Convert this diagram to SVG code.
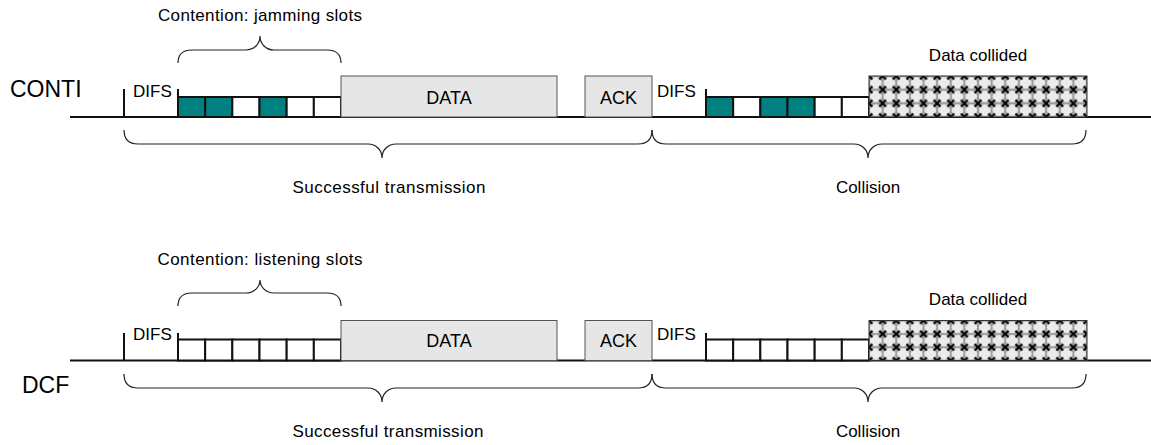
<svg xmlns="http://www.w3.org/2000/svg" width="1151" height="445" viewBox="0 0 1151 445">
<style>
text{font-family:"Liberation Sans",Arial,sans-serif;fill:#000}
.lbl{font-size:23px}
.t17{font-size:17px}
.t18{font-size:18px}
.box{fill:#e6e6e6;stroke:#555;stroke-width:1}
.line{stroke:#111;stroke-width:2;fill:none}
.slot{stroke:#111;stroke-width:2;fill:#fff}
.jam{stroke:#111;stroke-width:2;fill:#008080}
.brace{stroke:#222;stroke-width:1.2;fill:none}
.hatch{stroke:#333;stroke-width:1}
</style>
<defs>
<pattern id="hx" patternUnits="objectBoundingBox" width="0.0625" height="0.33333" patternContentUnits="userSpaceOnUse">
<rect width="13.7" height="13.7" fill="#9c9c9c"/>
<circle cx="6.8" cy="6.8" r="5.9" fill="#ebebeb"/>
<path d="M0,0 L3.4,3.4 M13.6,0 L10.2,3.4 M0,13.6 L3.4,10.2 M13.6,13.6 L10.2,10.2" stroke="#000" stroke-width="2"/>
</pattern>
</defs>

<g id="labels">
<text class="lbl" x="10" y="97">CONTI</text>
<text class="lbl" x="22" y="393">DCF</text>
</g>

<!-- Top row: CONTI -->
<g id="conti-timeline">
<path class="line" d="M70,117 H1151"/>
<path class="line" d="M124,117 V89"/>
<path class="line" d="M178,117 V89"/>
<path class="line" d="M706,117 V89"/>
</g>
<g id="conti-difs1"><text class="t17" x="133" y="97">DIFS</text></g>
<g id="conti-slots1">
<rect class="jam" x="178" y="97" width="27.17" height="20"/>
<rect class="jam" x="205.17" y="97" width="27.17" height="20"/>
<rect class="slot" x="232.33" y="97" width="27.17" height="20"/>
<rect class="jam" x="259.5" y="97" width="27.17" height="20"/>
<rect class="slot" x="286.67" y="97" width="27.17" height="20"/>
<rect class="slot" x="313.83" y="97" width="27.17" height="20"/>
</g>
<g id="conti-data">
<rect class="box" x="341" y="76" width="216" height="41"/>
<text class="t18" x="449" y="103.5" text-anchor="middle">DATA</text>
</g>
<g id="conti-ack">
<rect class="box" x="585" y="76" width="67" height="41"/>
<text class="t18" x="618.5" y="103.5" text-anchor="middle">ACK</text>
</g>
<g id="conti-difs2"><text class="t17" x="657" y="97">DIFS</text></g>
<g id="conti-slots2">
<rect class="jam" x="706" y="97" width="27.17" height="20"/>
<rect class="slot" x="733.17" y="97" width="27.17" height="20"/>
<rect class="jam" x="760.33" y="97" width="27.17" height="20"/>
<rect class="jam" x="787.5" y="97" width="27.17" height="20"/>
<rect class="slot" x="814.67" y="97" width="27.17" height="20"/>
<rect class="slot" x="841.83" y="97" width="27.17" height="20"/>
</g>
<g id="conti-collided">
<rect class="hatch" x="869" y="76" width="218" height="41" fill="url(#hx)"/>
<text class="t17" x="978" y="61" text-anchor="middle">Data collided</text>
</g>
<g id="conti-contention">
<text class="t17" x="260" y="21" text-anchor="middle" textLength="204" lengthAdjust="spacing">Contention: jamming slots</text>
</g>
<g id="conti-success"><text class="t17" x="389" y="193" text-anchor="middle" textLength="193" lengthAdjust="spacing">Successful transmission</text></g>
<g id="conti-collision"><text class="t17" x="868" y="193" text-anchor="middle">Collision</text></g>

<!-- Bottom row: DCF -->
<g id="dcf-timeline">
<path class="line" d="M70,360.5 H1151"/>
<path class="line" d="M124,360.5 V333"/>
<path class="line" d="M178,360.5 V333"/>
<path class="line" d="M706,360.5 V333"/>
</g>
<g id="dcf-difs1"><text class="t17" x="133" y="339.5">DIFS</text></g>
<g id="dcf-slots1">
<rect class="slot" x="178" y="339.5" width="27.17" height="21"/>
<rect class="slot" x="205.17" y="339.5" width="27.17" height="21"/>
<rect class="slot" x="232.33" y="339.5" width="27.17" height="21"/>
<rect class="slot" x="259.5" y="339.5" width="27.17" height="21"/>
<rect class="slot" x="286.67" y="339.5" width="27.17" height="21"/>
<rect class="slot" x="313.83" y="339.5" width="27.17" height="21"/>
</g>
<g id="dcf-data">
<rect class="box" x="341" y="320.5" width="216" height="40"/>
<text class="t18" x="449" y="347" text-anchor="middle">DATA</text>
</g>
<g id="dcf-ack">
<rect class="box" x="585" y="320.5" width="67" height="40"/>
<text class="t18" x="618.5" y="347" text-anchor="middle">ACK</text>
</g>
<g id="dcf-difs2"><text class="t17" x="657" y="339.5">DIFS</text></g>
<g id="dcf-slots2">
<rect class="slot" x="706" y="339.5" width="27.17" height="21"/>
<rect class="slot" x="733.17" y="339.5" width="27.17" height="21"/>
<rect class="slot" x="760.33" y="339.5" width="27.17" height="21"/>
<rect class="slot" x="787.5" y="339.5" width="27.17" height="21"/>
<rect class="slot" x="814.67" y="339.5" width="27.17" height="21"/>
<rect class="slot" x="841.83" y="339.5" width="27.17" height="21"/>
</g>
<g id="dcf-collided">
<rect class="hatch" x="869" y="320.5" width="218" height="40" fill="url(#hx)"/>
<text class="t17" x="978" y="305" text-anchor="middle">Data collided</text>
</g>
<g id="dcf-contention">
<text class="t17" x="260" y="265" text-anchor="middle" textLength="205" lengthAdjust="spacing">Contention: listening slots</text>
</g>
<g id="dcf-success"><text class="t17" x="388" y="437" text-anchor="middle" textLength="191" lengthAdjust="spacing">Successful transmission</text></g>
<g id="dcf-collision"><text class="t17" x="868" y="437" text-anchor="middle">Collision</text></g>

<g id="connectors">
<path class="brace" d="M178,63 C178,55 182,50 192,50 L246,50 C254,50 260,44 260,36 C260,44 266,50 274,50 L327,50 C337,50 341,55 341,63"/>
<path class="brace" d="M124,130 C124,139 128,144 138,144 L368,144 C376,144 382,150 382,158 C382,150 388,144 396,144 L638,144 C648,144 652,139 652,130"/>
<path class="brace" d="M652,130 C652,139 656,144 666,144 L854,144 C862,144 868,150 868,158 C868,150 874,144 882,144 L1072,144 C1082,144 1086,139 1086,130"/>
<path class="brace" d="M178,306 C178,298 182,293 192,293 L246,293 C254,293 260,287 260,280 C260,287 266,293 274,293 L327,293 C337,293 341,298 341,306"/>
<path class="brace" d="M124,374 C124,383 128,388 138,388 L368,388 C376,388 382,394 382,402 C382,394 388,388 396,388 L638,388 C648,388 652,383 652,374"/>
<path class="brace" d="M652,374 C652,383 656,388 666,388 L854,388 C862,388 868,394 868,402 C868,394 874,388 882,388 L1072,388 C1082,388 1086,383 1086,374"/>
</g>
</svg>
